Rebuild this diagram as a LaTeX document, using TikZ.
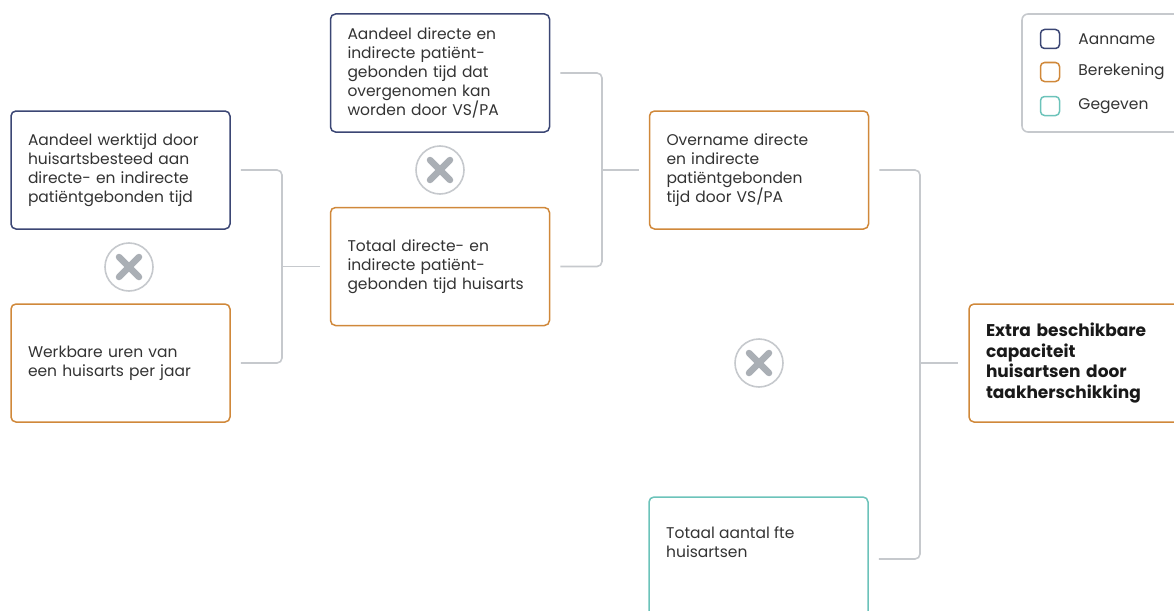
\documentclass[tikz,border=0pt]{standalone}
\usepackage{fontspec}
\setmainfont{Poppins}
\usetikzlibrary{positioning}
\definecolor{aanname}{HTML}{3B4674}
\definecolor{berekening}{HTML}{D0883A}
\definecolor{gegeven}{HTML}{6CC3BA}
\definecolor{lijn}{HTML}{C6C9CD}
\definecolor{kruis}{HTML}{AAAFB5}
\definecolor{tekst}{HTML}{333333}
\tikzset{
  blok/.style={draw, rounded corners=5pt, line width=1.5pt, fill=white, text width=185pt,
    inner xsep=17pt, inner ysep=0pt, minimum height=118pt, align=left, text=tekst,
    font=\fontsize{15.5}{19}\selectfont},
  verbind/.style={draw=lijn, line width=1.6pt, rounded corners=5pt},
  keer/.style={circle, draw=lijn, line width=1.6pt, minimum size=48pt, inner sep=0pt,
    path picture={\draw[kruis, line width=6.5pt, line cap=round]
      ([shift={(-10pt,-10pt)}]path picture bounding box.center) -- ([shift={(10pt,10pt)}]path picture bounding box.center)
      ([shift={(-10pt,10pt)}]path picture bounding box.center) -- ([shift={(10pt,-10pt)}]path picture bounding box.center);}},
  legvak/.style={draw, rounded corners=4pt, line width=1.5pt, minimum size=19pt, inner sep=0pt},
  legtekst/.style={inner sep=0pt, text=tekst, font=\fontsize{15.5}{19}\selectfont}
}
\begin{document}
\begin{tikzpicture}[x=1pt,y=-1pt]
\useasboundingbox (0,0) rectangle (1174,610);
\clip (0,0) rectangle (1174,610);

% invoer en berekeningen
\node[blok, draw=aanname] (aandeelwerk) at (120.5,170) {Aandeel werktijd door\\huisartsbesteed aan\\directe- en indirecte\\patiëntgebonden tijd};
\node[blok, draw=berekening] (werkbaar) at (120.5,363) {Werkbare uren van\\een huisarts per jaar};
\node[keer] (keer1) at (129,267) {};

\node[blok, draw=aanname] (aandeelvs) at (440,73) {Aandeel directe en\\indirecte patiënt-\\gebonden tijd dat\\overgenomen kan\\worden door VS/PA};
\node[blok, draw=berekening] (totaalpat) at (440,266.5) {Totaal directe- en\\indirecte patiënt-\\gebonden tijd huisarts};
\node[keer] (keer2) at (440,170) {};

\node[blok, draw=berekening] (overname) at (759,170) {Overname directe\\en indirecte\\patiëntgebonden\\tijd door VS/PA};
\node[blok, draw=gegeven, minimum height=124pt] (totaalfte) at (758.5,559) {};
\node[legtekst, align=left, anchor=west] (totaalftetekst) at (666,542) {Totaal aantal fte\\huisartsen};
\node[keer] (keer3) at (759,363) {};

\node[blok, draw=berekening, text=black!90, font=\fontsize{17}{20.5}\selectfont\bfseries] (extra) at (1078.5,363) {Extra beschikbare\\capaciteit\\huisartsen door\\taakherschikking};

% verbindingen
\coordinate (knoop1) at (282,266.5);
\coordinate (knoop2) at (602,170);
\coordinate (knoop3) at (920,363);
\draw[verbind] ([xshift=10pt]aandeelwerk.east) -| (knoop1) |- ([xshift=10pt]werkbaar.east);
\draw[verbind] (knoop1) -- ([xshift=-10pt]totaalpat.west);
\draw[verbind] ([xshift=10pt]aandeelvs.east) -| (knoop2) |- ([xshift=10pt]totaalpat.east);
\draw[verbind] (knoop2) -- ([xshift=-10pt]overname.west);
\draw[verbind] ([xshift=10pt]overname.east) -| (knoop3) |- ([xshift=10pt]totaalfte.east);
\draw[verbind] (knoop3) -- ([xshift=-10pt]extra.west);

% legenda
\node[draw=lijn, line width=1.6pt, rounded corners=6pt, minimum width=190pt, minimum height=118pt] (legenda) at (1117,73) {};
\node[legvak, draw=aanname] (legaanname) at (1050,39) {};
\node[legvak, draw=berekening] (legberekening) at (1050,72) {};
\node[legvak, draw=gegeven] (leggegeven) at (1050,106) {};
\node[legtekst, right=18pt of legaanname] (tekstaanname) {Aanname};
\node[legtekst, right=18pt of legberekening] (tekstberekening) {Berekening};
\node[legtekst, right=18pt of leggegeven] (tekstgegeven) {Gegeven};
\end{tikzpicture}
\end{document}
